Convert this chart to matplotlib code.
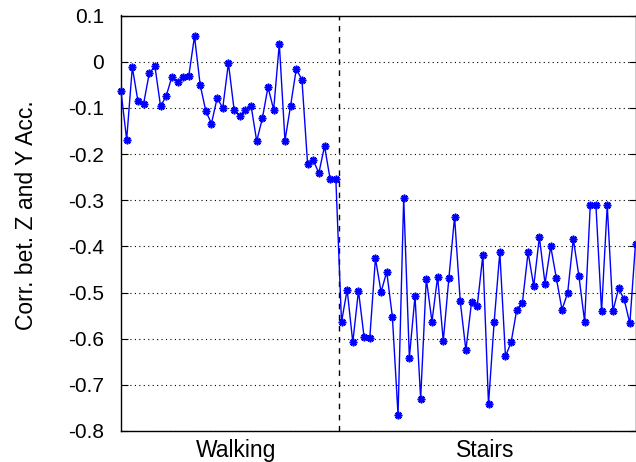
import matplotlib.pyplot as plt
import numpy as np

plt.rcParams['font.family'] = ['Liberation Sans', 'DejaVu Sans']

# korelasi sumbu Z dan Y, per jendela sampel
walking = [-0.064, -0.169, -0.012, -0.086, -0.091, -0.025, -0.010, -0.097, -0.074, -0.033,
           -0.045, -0.033, -0.030, 0.055, -0.050, -0.107, -0.134, -0.079, -0.100, -0.003,
           -0.104, -0.117, -0.105, -0.095, -0.172, -0.123, -0.055, -0.104, 0.039, -0.171,
           -0.095, -0.016, -0.039, -0.221, -0.214, -0.241, -0.183, -0.255, -0.255]
stairs = [-0.564, -0.494, -0.608, -0.496, -0.597, -0.599, -0.426, -0.499, -0.455, -0.553,
          -0.765, -0.295, -0.641, -0.508, -0.730, -0.470,
          -0.563, -0.466, -0.605, -0.468, -0.336, -0.519, -0.625, -0.521, -0.530, -0.419,
          -0.742, -0.564, -0.413, -0.638, -0.608, -0.537, -0.522, -0.413,
          -0.486, -0.380, -0.481, -0.400, -0.469, -0.537, -0.501, -0.384, -0.465, -0.563,
          -0.311, -0.311, -0.541, -0.311, -0.541, -0.491, -0.515, -0.567, -0.394]
labels = ['Walking', 'Stairs']

y = walking + stairs
x = np.arange(1, len(y) + 1)
batas = len(walking) + 0.5

fig = plt.figure(figsize=(6.36, 4.62), dpi=100)
ax = fig.add_axes([121 / 636, 31 / 462, 514.5 / 636, 415.5 / 462])

ax.plot(x, y, color='#0000ff', linewidth=1.0, marker=(8, 2, 0), markersize=5.5,
        markeredgewidth=1.2, clip_on=False, zorder=3)
ax.axvline(batas, color='black', linestyle=(0, (4, 4)), linewidth=1.0)

ax.set_xlim(1, len(y))
ax.set_ylim(-0.8, 0.1)
ax.set_yticks(np.arange(-0.8, 0.11, 0.1))
ax.set_yticklabels(['-0.8', '-0.7', '-0.6', '-0.5', '-0.4', '-0.3', '-0.2', '-0.1', '0', '0.1'])
ax.grid(axis='y', color='black', linestyle=(0, (1, 3)), linewidth=0.8)

ax.set_xticks([21.3, 65.5])
ax.set_xticklabels(labels)
ax.tick_params(axis='x', length=0, pad=6, labelsize=16.5)
ax.tick_params(axis='y', direction='in', length=5, right=True, pad=12, labelsize=15)

ax.set_ylabel('Corr. bet. Z and Y Acc.', fontsize=16.5)
ax.yaxis.set_label_coords(-0.162, 0.52)
for s in ax.spines.values():
    s.set_linewidth(1.0)

plt.savefig('out.png', dpi=100)
